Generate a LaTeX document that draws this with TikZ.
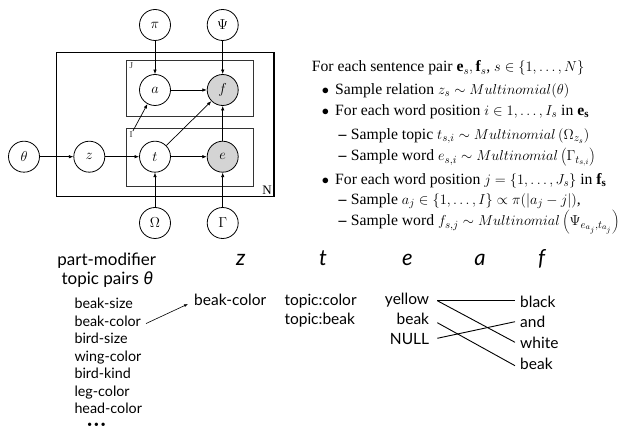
\documentclass[tikz,border=0pt]{standalone}
\usepackage{fontspec}
\setmainfont{Liberation Serif}
\newfontfamily\gill{Lato}
\newfontfamily\fira{Fira Sans}
\usetikzlibrary{arrows.meta}
\definecolor{obsgray}{RGB}{212,212,212}
\newcommand{\dashitem}{\makebox[12.4pt][l]{\textbf{–}}}
\newcommand{\bulitem}{\makebox[13.3pt][l]{$\bullet$}}
\begin{document}
\begin{tikzpicture}[x=1pt,y=-1pt,
  var/.style={circle,draw,line width=0.8pt,minimum size=31pt,inner sep=0pt,font=\fontsize{15}{15}\selectfont},
  obs/.style={var,fill=obsgray},
  edge/.style={-{Latex[length=4.5pt,width=3.5pt]},line width=0.7pt},
  plate/.style={draw=black!80,line width=1pt},
  outerplate/.style={draw=black,line width=1.1pt},
  platelab/.style={inner sep=0pt,font=\fontsize{9}{9}\selectfont,text=black!80},
  ltxt/.style={anchor=base west,inner sep=0pt,font=\fontsize{15.7}{18}\selectfont},
  gtxt/.style={inner sep=0pt,font=\gill\fontsize{14.3}{16}\selectfont},
  gbig/.style={inner sep=0pt,font=\gill\fontsize{15.5}{18}\selectfont},
  gtitle/.style={inner sep=0pt,font=\gill\fontsize{17}{20}\selectfont},
  ghead/.style={anchor=base,inner sep=0pt,font=\gill\itshape\fontsize{22}{24}\selectfont},
  align/.style={line width=0.9pt}
]
\useasboundingbox (0,0) rectangle (625,430);

% plates
\draw[outerplate] (56.7,52.3) rectangle (274,196.7);
\draw[plate] (126.7,60.7) rectangle (253.3,116.7);
\draw[plate] (126.7,129) rectangle (253.3,186.7);
\node[platelab,anchor=north west] (Jlab) at (129.5,62.5) {J};
\node[platelab,anchor=north west] (Ilab) at (129.5,131) {I};
\node[inner sep=0pt,anchor=south east,font=\fontsize{13}{13}\selectfont] (Nlab) at (272,195) {N};

% variables
\node[var] (pi) at (155,25) {$\pi$};
\node[var] (psi) at (222.7,25) {$\Psi$};
\node[var] (a) at (155,90) {$a$};
\node[obs] (f) at (222.7,90) {$f$};
\node[var] (theta) at (24,156.7) {$\theta$};
\node[var] (z) at (89.3,156.7) {$z$};
\node[var] (t) at (155,156.7) {$t$};
\node[obs] (e) at (222.7,156.7) {$e$};
\node[var] (omega) at (155,223) {$\Omega$};
\node[var] (gamma) at (222.7,223) {$\Gamma$};

\draw[edge] (pi) -- (a);
\draw[edge] (psi) -- (f);
\draw[edge] (a) -- (f);
\draw[edge] (Ilab.north east) -- (a);
\draw[edge] (t) -- (f);
\draw[edge] (t) -- (e);
\draw[edge] (e) -- (f);
\draw[edge] (omega) -- (t);
\draw[edge] (gamma) -- (e);
\draw[edge] (theta) -- (z);
\draw[edge] (z) -- (t);

% generative story
\node[ltxt] (l1) at (311.7,72) {For each sentence pair $\mathbf{e}_s,\mathbf{f}_s$, $s\in\{1,\ldots,N\}$};
\node[ltxt] (l2) at (321.7,94.5) {\bulitem Sample relation $z_s \sim Multinomial(\theta)$};
\node[ltxt] (l3) at (321.7,115.5) {\bulitem For each word position $i\in 1,\ldots,I_s$ in $\mathbf{e_s}$};
\node[ltxt] (l4) at (338.3,139.5) {\dashitem Sample topic $t_{s,i}\sim Multinomial\,\smash{\left(\Omega_{z_s}\right)}$};
\node[ltxt] (l5) at (338.3,161) {\dashitem Sample word $e_{s,i}\sim Multinomial\,\smash{\left(\Gamma_{t_{s,i}}\right)}$};
\node[ltxt] (l6) at (321.7,184.5) {\bulitem For each word position $j=\{1,\ldots,J_s\}$ in $\mathbf{f_s}$};
\node[ltxt] (l7) at (338.3,204.5) {\dashitem Sample $a_j\in\{1,\ldots,I\}\propto\pi(|a_j-j|)$,};
\node[ltxt] (l8) at (338.3,226) {\dashitem Sample word $f_{s,j}\sim Multinomial\,\smash{\left(\Psi_{e_{a_j},t_{a_j}}\right)}$};

% example
\node[gtitle,anchor=base] (pm1) at (106.7,265.5) {part-modifier};
\node[gtitle,anchor=base] (pm2) at (107.3,284.5) {topic pairs {\fira\itshape θ}};
\node[gtxt,anchor=base west] (c1) at (74.3,309) {beak-size};
\node[gtxt,anchor=base west] (c2) at (74.3,326.5) {beak-color};
\node[gtxt,anchor=base west] (c3) at (74.3,344) {bird-size};
\node[gtxt,anchor=base west] (c4) at (74.3,361.5) {wing-color};
\node[gtxt,anchor=base west] (c5) at (74.3,379) {bird-kind};
\node[gtxt,anchor=base west] (c6) at (74.3,396.5) {leg-color};
\node[gtxt,anchor=base west] (c7) at (74.3,414) {head-color};
\node[gtxt,anchor=center,font=\gill\fontsize{9}{9}\selectfont] (c8) at (96.5,425) {\textbullet\,\textbullet\,\textbullet};

\node[ghead] (hz) at (240.7,266) {z};
\node[ghead] (ht) at (323,266) {t};
\node[ghead] (he) at (407.3,266) {e};
\node[ghead] (ha) at (480,266) {a};
\node[ghead] (hf) at (541.7,266) {f};

\node[gbig,anchor=base west] (zval) at (194,305.5) {beak-color};
\node[gbig,anchor=base west] (t1) at (284.3,305.5) {topic:color};
\node[gbig,anchor=base west] (t2) at (284.3,324.5) {topic:beak};

\node[gbig,anchor=base east] (e1) at (429.3,305) {yellow};
\node[gbig,anchor=base east] (e2) at (429.3,324.3) {beak};
\node[gbig,anchor=base east] (e3) at (429.3,344.6) {NULL};

\node[gbig,anchor=base west] (f1) at (520,307.5) {black};
\node[gbig,anchor=base west] (f2) at (520,328) {and};
\node[gbig,anchor=base west] (f3) at (520,349) {white};
\node[gbig,anchor=base west] (f4) at (520,369.5) {beak};

\draw[-{Latex[length=4pt,width=3pt]},line width=0.6pt] ([shift={(5pt,3pt)}]c2.base east) -- ([shift={(-6pt,1.5pt)}]zval.base west);

\draw[align] ([shift={(8pt,4.3pt)}]e1.base east) -- ([shift={(-5pt,6.8pt)}]f1.base west);
\draw[align] ([shift={(8pt,4.3pt)}]e1.base east) -- ([shift={(-5pt,6.7pt)}]f3.base west);
\draw[align] ([shift={(8pt,1.6pt)}]e2.base east) -- ([shift={(-5pt,3.8pt)}]f4.base west);
\draw[align] ([shift={(8pt,6.3pt)}]e3.base east) -- ([shift={(-5pt,6.3pt)}]f2.base west);
\end{tikzpicture}
\end{document}
